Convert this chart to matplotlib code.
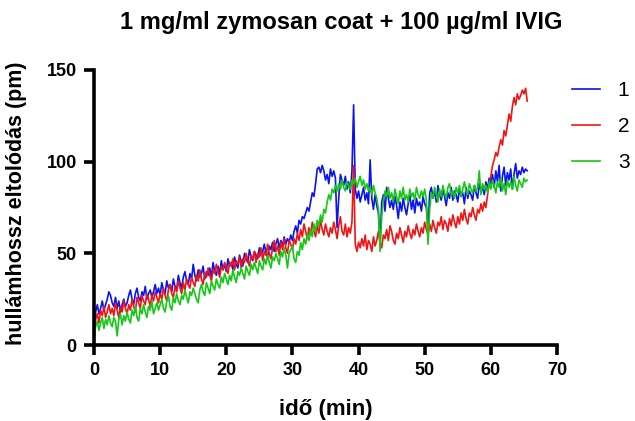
import numpy as np
import matplotlib
matplotlib.use("Agg")
import matplotlib.pyplot as plt

plt.rcParams['font.family'] = ['Liberation Sans', 'DejaVu Sans']

title = "1 mg/ml zymosan coat + 100 µg/ml IVIG"
xlabel = "idő (min)"
ylabel = "hullámhossz eltolódás (pm)"
series_names = ["1", "2", "3"]
step_min = 0.25  # sampling interval (min)

s1 = [0, 18, 22, 17, 20, 24, 19, 22, 25, 29, 27, 23, 21, 26, 20, 24, 18, 22, 25, 21,
      23, 27, 30, 25, 22, 28, 31, 26, 24, 29, 27, 32, 25, 28, 30, 26, 29, 33, 28, 31,
      27, 34, 30, 28, 35, 31, 33, 29, 36, 32, 30, 38, 34, 31, 37, 40, 35, 33, 39, 36,
      44, 38, 35, 41, 37, 39, 43, 36, 40, 38, 42, 37, 45, 40, 38, 43, 39, 46, 41, 44,
      40, 47, 43, 45, 41, 48, 44, 42, 49, 46, 43, 50, 47, 45, 52, 48, 46, 51, 49, 47,
      53, 49, 51, 55, 50, 48, 54, 52, 56, 51, 55, 58, 53, 57, 54, 59, 55, 58, 56, 60,
      57, 62, 65, 61, 68, 66, 70, 69, 72, 75, 73, 78, 83, 81, 88, 96, 97, 94, 98, 95,
      90, 93, 88, 96, 92, 95, 91, 64, 80, 93, 90, 87, 92, 85, 89, 83, 95, 131, 85, 80,
      84, 78, 82, 86, 79, 83, 77, 101, 80, 74, 82, 76, 72, 56, 78, 82, 73, 86, 80, 75,
      79, 74, 81, 76, 69, 78, 73, 80, 75, 71, 77, 82, 74, 79, 72, 80, 76, 78, 73, 81,
      77, 75, 63, 83, 86, 80, 84, 78, 87, 82, 79, 85, 81, 76, 83, 80, 86, 79, 84, 82,
      78, 85, 81, 83, 77, 86, 80, 84, 82, 79, 87, 83, 80, 88, 84, 86, 82, 89, 85, 91,
      88, 93, 86, 95, 89, 98, 84, 92, 97, 87, 94, 90, 96, 85, 93, 99, 91, 95, 93, 97,
      94, 96, 95]

s2 = [8, 14, 17, 12, 19, 16, 21, 15, 18, 22, 17, 20, 16, 23, 19, 15, 21, 18, 24, 20,
      17, 22, 19, 25, 21, 18, 26, 23, 20, 27, 24, 22, 28, 25, 21, 27, 24, 29, 26, 23,
      28, 25, 31, 27, 24, 30, 33, 28, 26, 32, 29, 35, 31, 28, 34, 30, 36, 33, 31, 37,
      34, 32, 38, 35, 41, 36, 33, 39, 37, 42, 38, 35, 41, 39, 44, 40, 37, 43, 41, 45,
      42, 39, 45, 43, 47, 41, 46, 44, 48, 42, 47, 45, 50, 46, 43, 49, 47, 51, 45, 50,
      48, 53, 46, 51, 49, 55, 50, 47, 53, 57, 51, 54, 49, 56, 52, 58, 53, 50, 57, 55,
      52, 58, 55, 61, 57, 63, 59, 66, 62, 58, 64, 60, 67, 62, 59, 65, 61, 68, 63, 60,
      66, 62, 59, 64, 61, 67, 63, 58, 65, 70, 62, 60, 66, 59, 64, 61, 67, 98, 55, 51,
      56, 53, 58, 54, 60, 52, 57, 55, 51, 59, 54, 57, 62, 56, 53, 60, 58, 63, 57, 65,
      62, 57, 55, 61, 58, 64, 60, 56, 62, 59, 65, 61, 58, 63, 60, 66, 62, 59, 64, 61,
      67, 63, 60, 66, 62, 68, 64, 61, 67, 65, 70, 63, 68, 66, 62, 69, 65, 71, 67, 64,
      70, 66, 72, 68, 74, 69, 66, 72, 70, 75, 71, 68, 74, 72, 77, 73, 78, 75, 82, 88,
      92, 98, 101, 105, 103, 108, 112, 109, 117, 114, 120, 126, 122, 130, 135, 131, 137, 134, 136, 139,
      137, 140, 133]

s3 = [5, 10, 13, 8, 12, 15, 9, 14, 11, 16, 12, 10, 15, 13, 5, 14, 17, 11, 16, 13,
      18, 14, 12, 19, 16, 21, 15, 13, 20, 17, 22, 18, 15, 21, 19, 24, 17, 20, 23, 19,
      22, 25, 20, 18, 24, 27, 21, 19, 26, 23, 28, 24, 22, 27, 25, 30, 26, 23, 29, 27,
      31, 28, 25, 23, 30, 33, 29, 27, 34, 31, 28, 35, 32, 30, 36, 33, 31, 37, 34, 39,
      36, 33, 38, 35, 41, 37, 34, 40, 38, 42, 39, 36, 43, 40, 38, 44, 41, 45, 42, 39,
      46, 43, 41, 47, 44, 49, 45, 42, 48, 46, 50, 47, 44, 51, 48, 53, 49, 42, 50, 52,
      54, 47, 45, 51, 49, 56, 52, 58, 55, 60, 57, 63, 59, 66, 62, 68, 65, 71, 67, 74,
      72, 78, 82, 79, 85, 83, 87, 84, 88, 85, 90, 86, 84, 89, 87, 85, 90, 88, 91, 86,
      89, 92, 87, 90, 85, 88, 84, 86, 82, 87, 83, 80, 74, 51, 70, 79, 84, 81, 86, 80,
      83, 78, 85, 81, 77, 84, 80, 86, 79, 82, 78, 85, 81, 83, 79, 86, 82, 80, 84, 81,
      85, 79, 55, 74, 83, 80, 86, 82, 78, 85, 81, 87, 83, 80, 86, 88, 82, 84, 80, 86,
      83, 87, 81, 85, 89, 84, 82, 88, 85, 83, 87, 84, 86, 95, 82, 88, 85, 87, 83, 89,
      85, 90, 87, 83, 89, 86, 91, 84, 88, 82, 90, 86, 89, 85, 92, 87, 84, 90, 88, 86,
      91, 89, 90]

xticks = [0, 10, 20, 30, 40, 50, 60, 70]
yticks = [0, 50, 100, 150]
colors = ["#0a14f0", "#f01414", "#14c814"]

fig = plt.figure(figsize=(6.35, 4.21), dpi=100)
ax = fig.add_axes([94/635, 1-345/421, (557-94)/635, (345-70)/421])

for s, c, name in zip([s1, s2, s3], colors, series_names):
    t = np.arange(len(s)) * step_min
    ax.plot(t, s, color=c, lw=1.2, label=name)

ax.set_xlim(0, 70)
ax.set_ylim(0, 150)
ax.set_xticks(xticks)
ax.set_yticks(yticks)
for sp in ['top', 'right']:
    ax.spines[sp].set_visible(False)
for sp in ['left', 'bottom']:
    ax.spines[sp].set_linewidth(2.6)
ax.tick_params(axis='both', direction='out', length=7.5, width=2.6, labelsize=13, pad=5)
for lab in ax.get_xticklabels() + ax.get_yticklabels():
    lab.set_fontweight('bold')

fig.text(326/635, 1-410/421, xlabel, fontsize=16, fontweight='bold', ha='center', va='center')
fig.text(17/635, 1-203/421, ylabel, fontsize=15.5, fontweight='bold', ha='center', va='center',
         rotation=90)
fig.text(341/635, 1-22/421, title, fontsize=17, fontweight='bold', ha='center', va='center')

leg = fig.legend(loc='upper left', bbox_to_anchor=(572/635, 1-81/421), frameon=False,
                 fontsize=15, handlelength=1.35, labelspacing=0.82, handletextpad=0.85,
                 borderpad=0, borderaxespad=0)
for line in leg.get_lines():
    line.set_linewidth(1.2)

fig.savefig("out.png", dpi=100)
